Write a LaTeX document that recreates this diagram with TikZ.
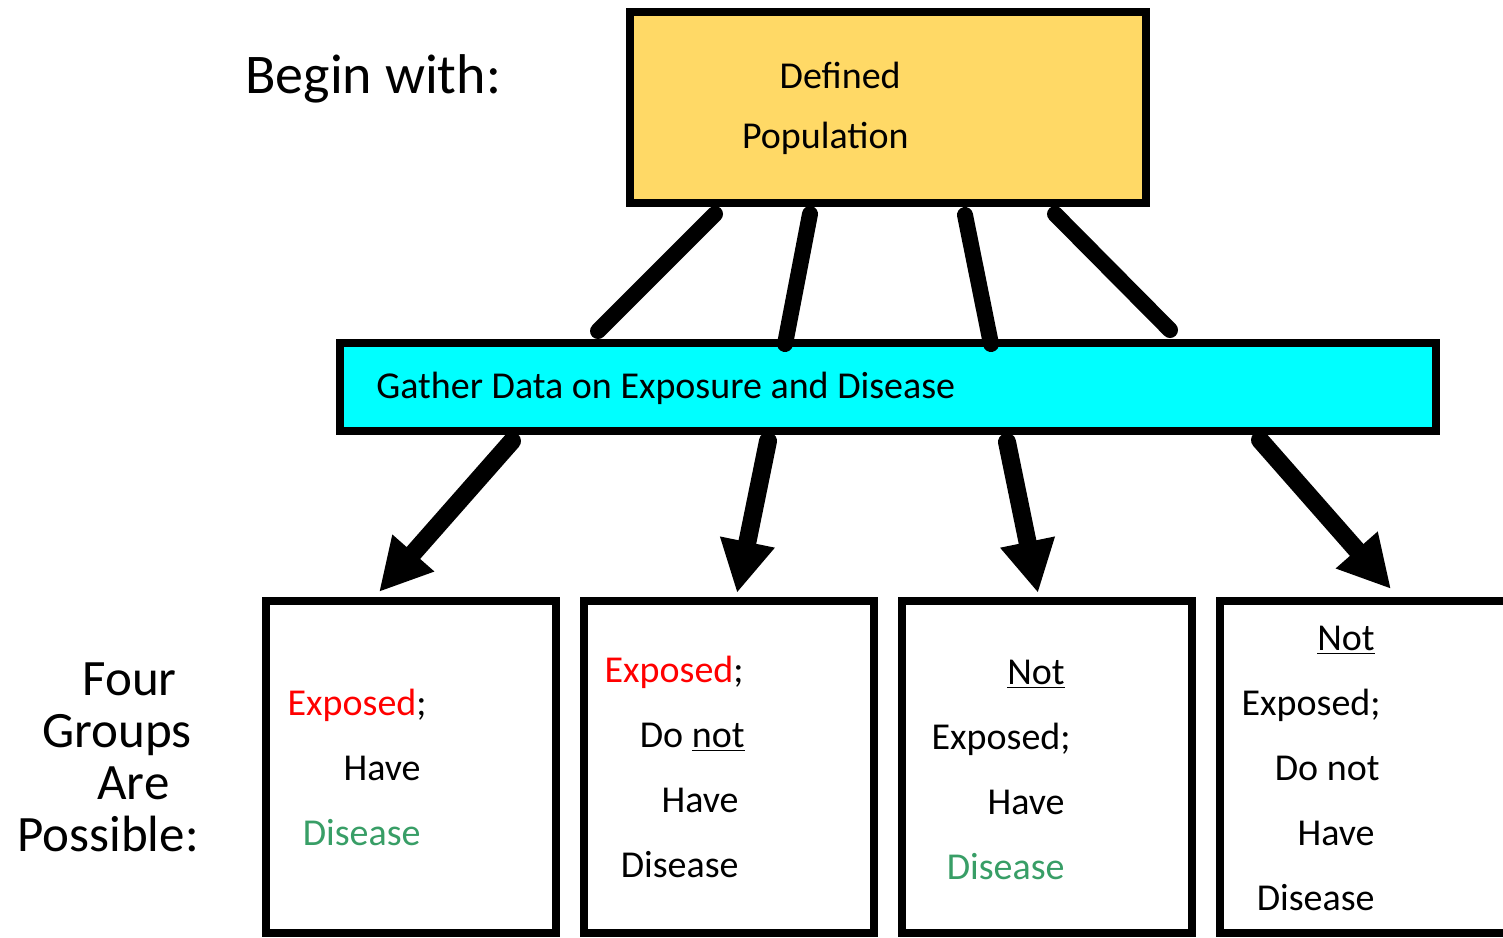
\documentclass[tikz,border=0pt]{standalone}
\usepackage{fontspec}
\setmainfont{Carlito}
\usetikzlibrary{arrows.meta,calc}

\definecolor{popyellow}{RGB}{255,217,102}
\definecolor{gathercyan}{RGB}{0,255,255}
\definecolor{expred}{RGB}{255,0,0}
\definecolor{disgreen}{RGB}{56,158,102}

\tikzset{
  frame/.style={draw=black, line width=4pt, inner sep=0pt, outer sep=0pt, anchor=north west},
  groupbox/.style={frame, fill=white, minimum width=145pt, minimum height=166pt},
  grouptext/.style={inner sep=0pt, anchor=base east, font=\fontsize{19pt}{32.5pt}\selectfont},
  link/.style={line width=8pt, line cap=round},
  flow/.style={line width=9pt, line cap=round, -{Triangle[length=26pt,width=26pt]}},
}

\begin{document}
\begin{tikzpicture}[x=0.5pt, y=-0.5pt]
  \useasboundingbox (0,0) rectangle (1503,937);
  \fill[white] (0,0) rectangle (1503,937);
  \clip (0,0) rectangle (1503,937);

  % headings on the left
  \node[inner sep=0pt, anchor=base west, font=\fontsize{28pt}{30pt}\selectfont]
    (begin) at (245,93) {Begin with:};
  \node[inner sep=0pt, anchor=base west, font=\fontsize{25.5pt}{26pt}\selectfont]
    (four) at (17,695) {\begin{tabular}[t]{@{}l@{}}
      \hspace*{32.5pt}Four\\
      \hspace*{12.5pt}Groups\\
      \hspace*{40pt}Are\\
      Possible:
    \end{tabular}};

  % boxes
  \node[frame, fill=popyellow, minimum width=258pt, minimum height=95.5pt] (pop) at (630,12) {};
  \node[frame, fill=gathercyan, minimum width=548pt, minimum height=44pt] (gather) at (340,343) {};
  \node[groupbox] (g1) at (266,601) {};
  \node[groupbox] (g2) at (584,601) {};
  \node[groupbox] (g3) at (902,601) {};
  \node[groupbox] (g4) at (1220,601) {};

  % box texts
  \node[inner sep=0pt, anchor=base east, font=\fontsize{19pt}{30pt}\selectfont]
    (poptext) at (909,88) {\begin{tabular}[t]{@{}r@{}}
      Defined\hspace*{4pt}\\
      Population
    \end{tabular}};
  \node[inner sep=0pt, anchor=base west, font=\fontsize{19pt}{24pt}\selectfont]
    (gathertext) at (376,398) {Gather Data on Exposure and Disease};

  \node[grouptext] (t1) at (421,715) {\begin{tabular}[t]{@{}r@{}}
      \textcolor{expred}{Exposed};\hspace*{-3pt}\\
      Have\\
      \textcolor{disgreen}{Disease}
    \end{tabular}};
  \node[grouptext] (t2) at (739,682) {\begin{tabular}[t]{@{}r@{}}
      \textcolor{expred}{Exposed};\hspace*{-2.5pt}\\
      Do \underline{not}\hspace*{-3pt}\\
      Have\\
      Disease
    \end{tabular}};
  \node[grouptext] (t3) at (1065,684) {\begin{tabular}[t]{@{}r@{}}
      \underline{Not}\\
      Exposed;\hspace*{-3pt}\\
      Have\\
      \textcolor{disgreen}{Disease}
    \end{tabular}};
  \node[grouptext] (t4) at (1375,650) {\begin{tabular}[t]{@{}r@{}}
      \underline{Not}\\
      Exposed;\hspace*{-3pt}\\
      Do not\hspace*{-2.5pt}\\
      Have\\
      Disease
    \end{tabular}};

  % links from the population down to data gathering
  \draw[link] ($(pop.south west)+(85,11)$)  -- ($(gather.north west)+(258,-12)$);
  \draw[link] ($(pop.south west)+(180,11)$) -- ($(gather.north west)+(445,1)$);
  \draw[link] ($(pop.south west)+(335,12)$) -- ($(gather.north west)+(651,1)$);
  \draw[link] ($(pop.south west)+(425,11)$) -- ($(gather.north west)+(830,-13)$);

  % arrows to the four groups
  \draw[flow] ($(gather.south west)+(172,10)$) -- ($(g1.north west)+(113,-9)$);
  \draw[flow] ($(gather.south west)+(428,10)$) -- ($(g2.north west)+(153,-8)$);
  \draw[flow] ($(gather.south west)+(667,11)$) -- ($(g3.north west)+(136,-8)$);
  \draw[flow] ($(gather.south west)+(920,9)$)  -- ($(g4.north west)+(171,-12)$);
\end{tikzpicture}
\end{document}
